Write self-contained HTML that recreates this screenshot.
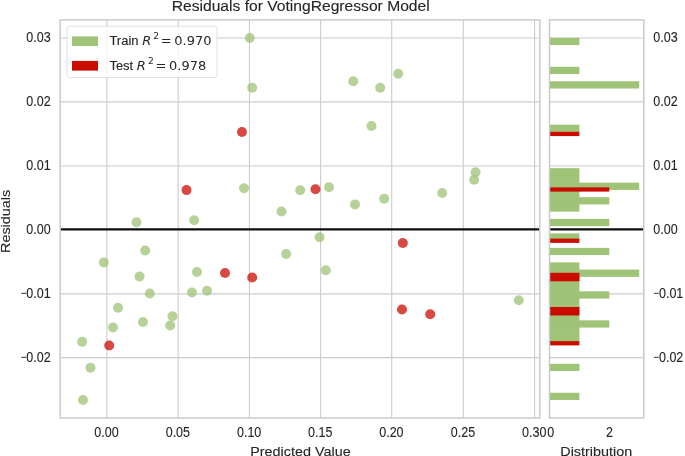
<!DOCTYPE html><html><head><meta charset="utf-8"><title>Residuals for VotingRegressor Model</title>
<style>html,body{margin:0;padding:0;background:#fff}svg{display:block}text{font-family:"Liberation Sans",sans-serif;fill:#262626;stroke:#262626;stroke-width:0.12px}.m{stroke-width:0}.m{font-family:"DejaVu Sans",sans-serif}</style></head><body>
<svg width="685" height="456" viewBox="0 0 685 456">
<defs><filter id="soft" x="0" y="0" width="685" height="456" filterUnits="userSpaceOnUse"><feGaussianBlur stdDeviation="0.45"/></filter></defs>
<rect width="685" height="456" fill="#fff"/>
<g filter="url(#soft)">
<rect width="685" height="456" fill="#fff"/>
<g stroke="#cccccc" stroke-width="1.1" fill="none">
<line x1="106.85" y1="19.9" x2="106.85" y2="417.95"/>
<line x1="178.15" y1="19.9" x2="178.15" y2="417.95"/>
<line x1="249.45" y1="19.9" x2="249.45" y2="417.95"/>
<line x1="320.60" y1="19.9" x2="320.60" y2="417.95"/>
<line x1="391.70" y1="19.9" x2="391.70" y2="417.95"/>
<line x1="463.30" y1="19.9" x2="463.30" y2="417.95"/>
<line x1="534.60" y1="19.9" x2="534.60" y2="417.95"/>
<line x1="60.15" y1="38.00" x2="539.85" y2="38.00"/>
<line x1="60.15" y1="101.85" x2="539.85" y2="101.85"/>
<line x1="60.15" y1="166.00" x2="539.85" y2="166.00"/>
<line x1="60.15" y1="229.30" x2="539.85" y2="229.30"/>
<line x1="60.15" y1="293.85" x2="539.85" y2="293.85"/>
<line x1="60.15" y1="357.60" x2="539.85" y2="357.60"/>
<line x1="549.5" y1="38.00" x2="643.8" y2="38.00"/>
<line x1="549.5" y1="101.85" x2="643.8" y2="101.85"/>
<line x1="549.5" y1="166.00" x2="643.8" y2="166.00"/>
<line x1="549.5" y1="229.30" x2="643.8" y2="229.30"/>
<line x1="549.5" y1="293.85" x2="643.8" y2="293.85"/>
<line x1="549.5" y1="357.60" x2="643.8" y2="357.60"/>
</g>
<g fill="#9fc377">
<rect x="549.5" y="37.80" width="29.90" height="7.24"/>
<rect x="549.5" y="66.78" width="29.90" height="7.24"/>
<rect x="549.5" y="81.26" width="89.70" height="7.24"/>
<rect x="549.5" y="124.73" width="29.90" height="7.24"/>
<rect x="549.5" y="168.19" width="29.90" height="7.24"/>
<rect x="549.5" y="174.84" width="29.90" height="1.2"/>
<rect x="549.5" y="175.44" width="29.90" height="7.24"/>
<rect x="549.5" y="182.08" width="29.90" height="1.2"/>
<rect x="549.5" y="182.68" width="89.70" height="7.24"/>
<rect x="549.5" y="189.32" width="29.90" height="1.2"/>
<rect x="549.5" y="189.92" width="29.90" height="7.24"/>
<rect x="549.5" y="196.57" width="29.90" height="1.2"/>
<rect x="549.5" y="197.17" width="59.80" height="7.24"/>
<rect x="549.5" y="203.81" width="29.90" height="1.2"/>
<rect x="549.5" y="204.41" width="29.90" height="7.24"/>
<rect x="549.5" y="218.90" width="59.80" height="7.24"/>
<rect x="549.5" y="233.39" width="29.90" height="7.24"/>
<rect x="549.5" y="247.88" width="59.80" height="7.24"/>
<rect x="549.5" y="262.36" width="29.90" height="7.24"/>
<rect x="549.5" y="269.01" width="29.90" height="1.2"/>
<rect x="549.5" y="269.61" width="89.70" height="7.24"/>
<rect x="549.5" y="276.25" width="29.90" height="1.2"/>
<rect x="549.5" y="276.85" width="29.90" height="7.24"/>
<rect x="549.5" y="283.50" width="29.90" height="1.2"/>
<rect x="549.5" y="284.10" width="29.90" height="7.24"/>
<rect x="549.5" y="290.74" width="29.90" height="1.2"/>
<rect x="549.5" y="291.34" width="59.80" height="7.24"/>
<rect x="549.5" y="297.98" width="29.90" height="1.2"/>
<rect x="549.5" y="298.58" width="29.90" height="7.24"/>
<rect x="549.5" y="305.23" width="29.90" height="1.2"/>
<rect x="549.5" y="305.83" width="29.90" height="7.24"/>
<rect x="549.5" y="312.47" width="29.90" height="1.2"/>
<rect x="549.5" y="313.07" width="29.90" height="7.24"/>
<rect x="549.5" y="319.72" width="29.90" height="1.2"/>
<rect x="549.5" y="320.32" width="59.80" height="7.24"/>
<rect x="549.5" y="326.96" width="29.90" height="1.2"/>
<rect x="549.5" y="327.56" width="29.90" height="7.24"/>
<rect x="549.5" y="334.20" width="29.90" height="1.2"/>
<rect x="549.5" y="334.80" width="29.90" height="7.24"/>
<rect x="549.5" y="363.78" width="29.90" height="7.24"/>
<rect x="549.5" y="392.76" width="29.90" height="7.24"/>
</g><g fill="#ca0b03">
<rect x="549.5" y="131.80" width="29.90" height="4.27"/>
<rect x="549.5" y="187.34" width="59.80" height="4.27"/>
<rect x="549.5" y="238.60" width="29.90" height="4.27"/>
<rect x="549.5" y="272.78" width="29.90" height="4.27"/>
<rect x="549.5" y="276.45" width="29.90" height="1.2"/>
<rect x="549.5" y="277.05" width="29.90" height="4.27"/>
<rect x="549.5" y="306.95" width="29.90" height="4.27"/>
<rect x="549.5" y="310.62" width="29.90" height="1.2"/>
<rect x="549.5" y="311.22" width="29.90" height="4.27"/>
<rect x="549.5" y="341.13" width="29.90" height="4.27"/>
</g>
<g fill="#9fc377" fill-opacity="0.75">
<circle cx="118" cy="307.8" r="5.0"/>
<circle cx="113" cy="327.5" r="5.0"/>
<circle cx="143" cy="322" r="5.0"/>
<circle cx="172.5" cy="316.2" r="5.0"/>
<circle cx="170.2" cy="325.5" r="5.0"/>
<circle cx="82.2" cy="341.8" r="5.0"/>
<circle cx="90.5" cy="367.8" r="5.0"/>
<circle cx="83" cy="400" r="5.0"/>
<circle cx="136.5" cy="222.2" r="5.0"/>
<circle cx="194.2" cy="220.2" r="5.0"/>
<circle cx="145.2" cy="250.5" r="5.0"/>
<circle cx="103.8" cy="262.5" r="5.0"/>
<circle cx="139.5" cy="276.5" r="5.0"/>
<circle cx="197" cy="272" r="5.0"/>
<circle cx="149.8" cy="293.5" r="5.0"/>
<circle cx="192" cy="292.5" r="5.0"/>
<circle cx="207" cy="290.8" r="5.0"/>
<circle cx="281.5" cy="211.5" r="5.0"/>
<circle cx="355" cy="204.4" r="5.0"/>
<circle cx="319.5" cy="237.2" r="5.0"/>
<circle cx="286.2" cy="254" r="5.0"/>
<circle cx="325.8" cy="270.2" r="5.0"/>
<circle cx="518.8" cy="300.2" r="5.0"/>
<circle cx="249.8" cy="38" r="5.0"/>
<circle cx="252.2" cy="87.8" r="5.0"/>
<circle cx="353.2" cy="81.2" r="5.0"/>
<circle cx="371.5" cy="126" r="5.0"/>
<circle cx="244" cy="188.2" r="5.0"/>
<circle cx="300.2" cy="190.2" r="5.0"/>
<circle cx="329" cy="187.2" r="5.0"/>
<circle cx="380.2" cy="87.8" r="5.0"/>
<circle cx="398.2" cy="73.8" r="5.0"/>
<circle cx="384.2" cy="198.8" r="5.0"/>
<circle cx="442.2" cy="193" r="5.0"/>
<circle cx="475.5" cy="172.2" r="5.0"/>
<circle cx="474.2" cy="179.8" r="5.0"/>
</g><g fill="#ca0b03" fill-opacity="0.75">
<circle cx="109.2" cy="345.5" r="5.0"/>
<circle cx="225" cy="273" r="5.0"/>
<circle cx="252.2" cy="277.5" r="5.0"/>
<circle cx="402.8" cy="243" r="5.0"/>
<circle cx="402" cy="309.5" r="5.0"/>
<circle cx="430.2" cy="314.2" r="5.0"/>
<circle cx="242" cy="132" r="5.0"/>
<circle cx="186.5" cy="190.1" r="5.0"/>
<circle cx="315.5" cy="189.2" r="5.0"/>
</g>
<line x1="60.85" y1="229.35" x2="539.15" y2="229.35" stroke="#111" stroke-width="2.2"/>
<line x1="550.2" y1="229.35" x2="643.0999999999999" y2="229.35" stroke="#111" stroke-width="2.2"/>
<rect x="60.15" y="19.9" width="479.70000000000005" height="398.05" fill="none" stroke="#c9c9c9" stroke-width="1.45"/>
<rect x="549.5" y="19.9" width="94.29999999999995" height="398.05" fill="none" stroke="#c9c9c9" stroke-width="1.45"/>
<rect x="67" y="26.2" width="150" height="51.3" rx="2.5" fill="#fff" fill-opacity="0.8" stroke="#d4d4d4" stroke-opacity="0.7" stroke-width="1"/>
<rect x="72" y="36.4" width="26" height="9.6" fill="#9fc377"/>
<rect x="72" y="60.9" width="26" height="9.7" fill="#ca0b03"/>
<text x="109.4" y="45.3" font-size="13.0">Train <tspan class="m" font-style="italic">R</tspan><tspan class="m" font-size="9.1" dx="2.0" dy="-6.2">2</tspan><tspan class="m" dx="-2.4" dy="6.2"> =</tspan><tspan class="m" dx="-1.5"> 0.970</tspan></text>
<text x="109.4" y="69.8" font-size="13.0">Test <tspan class="m" font-style="italic">R</tspan><tspan class="m" font-size="9.1" dx="2.0" dy="-6.2">2</tspan><tspan class="m" dx="-2.4" dy="6.2"> =</tspan><tspan class="m" dx="-1.5"> 0.978</tspan></text>
<text transform="translate(50.7,42.20) scale(0.808,1)" font-size="15.5" text-anchor="end">0.03</text>
<text transform="translate(653.3,42.20) scale(0.808,1)" font-size="15.5">0.03</text>
<text transform="translate(50.7,106.10) scale(0.808,1)" font-size="15.5" text-anchor="end">0.02</text>
<text transform="translate(653.3,106.10) scale(0.808,1)" font-size="15.5">0.02</text>
<text transform="translate(50.7,170.00) scale(0.808,1)" font-size="15.5" text-anchor="end">0.01</text>
<text transform="translate(653.3,170.00) scale(0.808,1)" font-size="15.5">0.01</text>
<text transform="translate(50.7,233.90) scale(0.808,1)" font-size="15.5" text-anchor="end">0.00</text>
<text transform="translate(653.3,233.90) scale(0.808,1)" font-size="15.5">0.00</text>
<text transform="translate(50.7,297.80) scale(0.808,1)" font-size="15.5" text-anchor="end"><tspan font-size="12" dy="-0.6">−</tspan><tspan dy="0.6">0.01</tspan></text>
<text transform="translate(653.3,297.80) scale(0.808,1)" font-size="15.5"><tspan font-size="12" dy="-0.6">−</tspan><tspan dy="0.6">0.01</tspan></text>
<text transform="translate(50.7,361.70) scale(0.808,1)" font-size="15.5" text-anchor="end"><tspan font-size="12" dy="-0.6">−</tspan><tspan dy="0.6">0.02</tspan></text>
<text transform="translate(653.3,361.70) scale(0.808,1)" font-size="15.5"><tspan font-size="12" dy="-0.6">−</tspan><tspan dy="0.6">0.02</tspan></text>
<text transform="translate(106.55,437.3) scale(0.808,1)" font-size="15.5" text-anchor="middle">0.00</text>
<text transform="translate(177.85,437.3) scale(0.808,1)" font-size="15.5" text-anchor="middle">0.05</text>
<text transform="translate(249.15,437.3) scale(0.808,1)" font-size="15.5" text-anchor="middle">0.10</text>
<text transform="translate(320.30,437.3) scale(0.808,1)" font-size="15.5" text-anchor="middle">0.15</text>
<text transform="translate(391.40,437.3) scale(0.808,1)" font-size="15.5" text-anchor="middle">0.20</text>
<text transform="translate(463.00,437.3) scale(0.808,1)" font-size="15.5" text-anchor="middle">0.25</text>
<text transform="translate(534.30,437.3) scale(0.808,1)" font-size="15.5" text-anchor="middle">0.30</text>
<text transform="translate(550.7,437.3) scale(0.808,1)" font-size="15.5" text-anchor="middle">0</text>
<text transform="translate(609.6,437.3) scale(0.808,1)" font-size="15.5" text-anchor="middle">2</text>
<text transform="translate(300.4,455.5) scale(1.09,1)" font-size="13.2" text-anchor="middle">Predicted Value</text>
<text transform="translate(596.2,455.5) scale(1.09,1)" font-size="13.2" text-anchor="middle">Distribution</text>
<text transform="translate(10.4,221.4) rotate(-90) scale(1.09,1)" font-size="13.2" text-anchor="middle">Residuals</text>
<text transform="translate(300.7,11.4) scale(1.087,1)" font-size="14.4" text-anchor="middle">Residuals for VotingRegressor Model</text>
</g>
</svg></body></html>
